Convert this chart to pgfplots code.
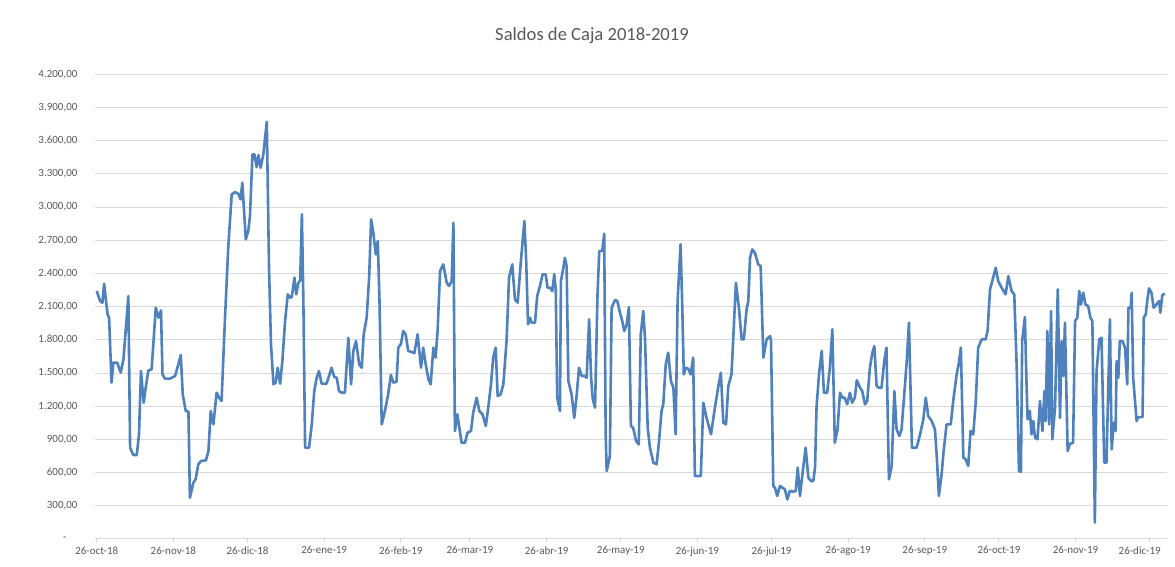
\documentclass[border=0pt]{standalone}
\usepackage{fontspec}
\setmainfont{Carlito}
\usepackage{pgfplots}
\pgfplotsset{compat=1.18}
\definecolor{series}{HTML}{4F81BD}
\definecolor{txt}{HTML}{595959}
\definecolor{gridc}{HTML}{D9D9D9}
\begin{document}
\begin{tikzpicture}[x=1pt,y=1pt]
\path[fill=white] (0,0) rectangle (1175,567);
\node[font=\fontsize{18.6}{20}\selectfont, text=txt] at (592,531) {Saldos de Caja 2018-2019};
\begin{axis}[
  at={(95pt,28pt)}, anchor=south west,
  width=1072pt, height=464.7pt, scale only axis,
  xmin=-0.7, xmax=433, ymin=0, ymax=4200,
  axis x line*=bottom, axis y line*=left,
  y axis line style={draw=none},
  x axis line style={draw=gridc, line width=1pt},
  ytick={0,300,...,4200},
  yticklabels={{-\hspace*{11pt}},{300,00},{600,00},{900,00},{1.200,00},{1.500,00},{1.800,00},{2.100,00},{2.400,00},{2.700,00},{3.000,00},{3.300,00},{3.600,00},{3.900,00},{4.200,00}},
  xtick={0,31,61,92,123,151,182,212,243,273,304,335,365,396},
  xticklabels={26-oct-18,26-nov-18,26-dic-18,26-ene-19,26-feb-19,26-mar-19,26-abr-19,26-may-19,26-jun-19,26-jul-19,26-ago-19,26-sep-19,26-oct-19,26-nov-19},
  extra x ticks={426}, extra x tick labels={26-dic-19},
  extra x tick style={xticklabel style={xshift=-10pt}, grid=none},
  ymajorgrids, grid style={draw=gridc, line width=1pt},
  ytick style={draw=none},
  xtick style={draw=gridc, line width=1pt},
  tick align=outside, major tick length=4pt,
  yticklabel style={font=\fontsize{11}{12}\selectfont, text=txt, xshift=-10pt},
  xticklabel style={font=\fontsize{11}{12}\selectfont, text=txt},
  clip=false,
]
\addplot[series, line width=2.6pt, line join=round, no marks] table {
d v
0 2241
1.35 2151
2.3 2136
3 2307
3.6 2181
4.4 2030
5 2000
6 1413
6.7 1593
8.3 1593
9.7 1503
10.8 1623
12.8 2196
13.5 825
14.8 759
16.2 759
17.1 946
17.9 1518
19 1232
19.8 1367
20.9 1524
22.2 1533
23.9 2090
25 2000
26 2066
26.6 1488
27.6 1449
29.6 1449
31.7 1473
33 1578
34 1663
34.8 1307
36 1157
37.1 1151
37.7 373
39.1 509
40 539
41.1 675
42.2 705
44.2 711
45.2 795
46.1 1157
47.2 1036
48.5 1322
49.5 1277
50.5 1247
51.9 2000
53.2 2632
54.6 3114
55.9 3135
57.3 3120
58.2 3069
58.9 3220
60.3 2708
61.3 2783
62 2919
63 3476
63.8 3476
64.7 3361
65.4 3470
66.3 3355
67.4 3476
68.8 3771
69.7 2452
70.5 1759
71.5 1398
72.4 1413
73.2 1548
74.2 1404
75.1 1608
76.2 1970
77.3 2211
78.2 2181
78.9 2187
80 2361
80.7 2211
81.6 2316
82.3 2337
83 2934
83.6 2151
84.3 825
85.9 825
87 1036
88 1337
89 1458
89.9 1518
91 1404
93 1404
95 1548
96.1 1464
97.1 1458
98 1337
99.1 1322
100.4 1322
101.8 1819
102.9 1398
103.8 1699
104.9 1789
106.2 1578
107.2 1548
108 1849
109.2 2000
110.2 2361
111 2889
111.9 2768
112.9 2572
113.7 2693
114.4 2151
115.3 1036
116.6 1157
117.9 1307
119 1482
120 1413
121.3 1422
122 1729
123.1 1765
124 1880
125 1849
126 1699
127.1 1693
128.5 1680
129.8 1849
131.2 1548
132.1 1729
133.1 1578
134.2 1443
135.1 1398
136.2 1729
137.1 1639
137.9 1880
138.9 2422
140.2 2482
141.6 2316
142.5 2286
143.6 2331
144.3 2858
144.9 976
145.9 1126
146.7 1006
147.6 870
149 870
150 961
151.4 976
152.3 1142
153.7 1277
154.8 1157
156.1 1126
157.4 1021
158.4 1187
159.5 1398
160.4 1639
161.4 1729
162.2 1292
163.4 1307
164.5 1398
165.8 1789
166.8 2361
168.1 2482
169.2 2166
170.3 2136
171.6 2512
173 2873
173.7 2542
174.5 1940
175.3 2000
176 1955
177.3 1955
178.2 2196
179.3 2286
180.4 2392
181.6 2392
182.4 2271
183.4 2271
184.3 2241
185.1 2392
185.7 2256
186.3 1277
187.4 1157
187.8 2331
188.8 2452
189.4 2542
190.1 2467
190.8 1428
192.1 1307
193.2 1096
194.2 1307
195.1 1548
196.2 1473
197.3 1473
198.2 1458
199.2 1985
200 1458
200.7 1262
201.6 1187
202.6 2211
203.3 2602
204.5 2602
205.3 2759
205.9 946
206.3 614
207.6 750
208.3 2090
209.7 2160
210.6 2151
211.7 2045
212.6 1970
213.4 1880
214.4 1940
215.3 2096
216.1 1021
217 1006
218.2 886
219.3 855
220.1 1849
221.1 2060
221.8 1819
222.9 1006
223.8 825
225.2 690
226.5 675
227.5 886
228.5 1157
229.2 1217
230.2 1578
231.2 1684
232.3 1428
233.3 1367
234.2 946
235 2151
236.2 2663
236.9 2090
237.5 1488
238.3 1548
239.3 1539
240.3 1488
241.3 1639
242 569
244.4 569
245.4 1232
246.7 1096
248.5 946
250.1 1187
251.5 1383
252.5 1503
253.5 1051
254.6 1036
255.5 1383
256.8 1488
258.6 2316
259.8 2090
260.9 1804
261.8 1804
262.9 2075
263.6 2150
264.3 2542
265.2 2617
266.3 2587
267.6 2482
268.6 2467
269.7 1639
271 1804
272.4 1834
272.8 1789
273.7 479
274.4 464
275.3 389
276.4 479
277.4 464
278.4 449
279.4 358
280.4 434
281.7 428
282.8 434
283.6 645
284.5 389
285.5 584
286.8 825
287.9 554
289 524
289.9 524
290.6 645
291.2 1187
292.2 1488
293.3 1699
294.2 1322
295.5 1322
296.6 1548
297.6 1895
298.6 870
299.7 991
300.7 1322
301.6 1277
302.6 1277
303.6 1217
304.7 1322
305.6 1232
306.7 1277
307.5 1435
308.8 1367
309.7 1337
310.8 1217
311.7 1247
312.8 1548
313.8 1684
314.6 1744
315.5 1383
316.4 1367
317.5 1367
318.6 1608
319.5 1729
320.5 539
321.6 660
322.7 1337
323.6 991
324.7 931
325.6 991
326.7 1307
327.7 1608
328.6 1955
329.8 825
331.7 825
333.1 946
334.4 1081
335.4 1277
336.4 1111
337.8 1066
339.1 991
339.8 765
340.7 389
341.8 584
342.5 765
343.8 1036
345.5 1036
346.5 1247
347.9 1488
348.8 1593
349.6 1729
350.6 735
351.5 720
352.6 660
353.5 976
354.6 946
355.6 1232
356.6 1729
358 1804
359.6 1804
360.4 1880
361.4 2256
362.3 2331
363.7 2452
364.7 2331
366.1 2271
367.7 2211
368.8 2376
370.1 2241
371.2 2211
372.2 1548
373.1 614
373.9 608
374.4 1789
375.5 2006
376.2 1367
376.6 1081
377.5 1157
378.2 946
378.9 1066
379.6 916
380.6 901
381.6 1247
382.6 976
383.4 1337
383.9 1066
384.6 1880
385.3 1036
386.1 2060
386.6 901
387.7 1187
388.8 2256
389.7 1096
390.4 1789
391.1 1473
391.7 1955
392.8 795
393.7 860
395 870
395.8 1970
396.7 2000
397.5 2241
398.2 2120
399.1 2226
400 2120
401.1 2105
402 2000
402.8 1970
403.2 1247
403.8 148
404.5 1518
405.6 1804
406.5 1819
407.6 690
408.5 690
409.9 1985
410.6 810
411.5 1051
412.2 976
412.6 1608
413.3 1458
413.9 1789
415 1789
416 1729
416.9 1398
417.4 2090
418.3 2090
418.7 2226
419.3 1458
420.7 1066
421.3 1102
423.1 1102
423.6 2000
424.4 2030
425 2151
425.7 2265
426.7 2226
427.6 2090
428.7 2120
429.8 2151
430.3 2045
431.1 2205
432.1 2217
};
\end{axis}
\end{tikzpicture}
\end{document}
